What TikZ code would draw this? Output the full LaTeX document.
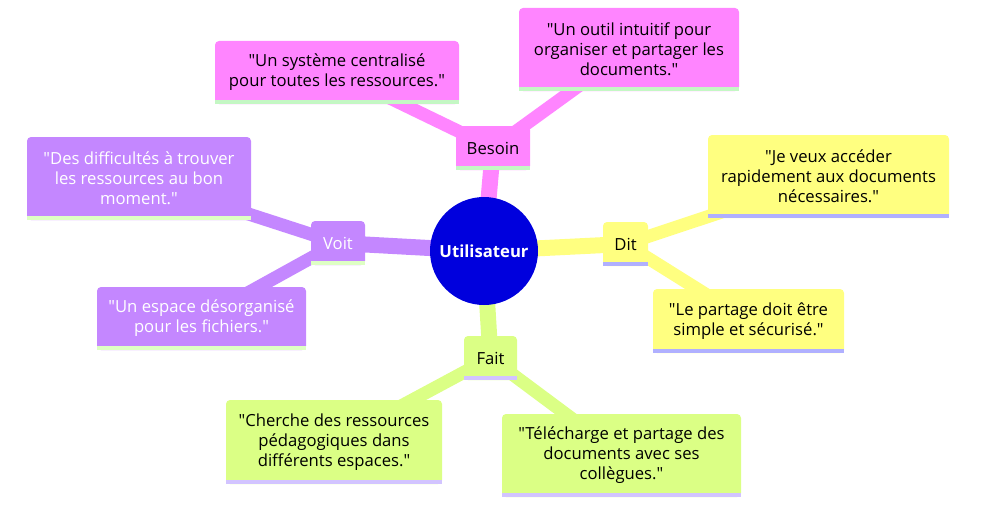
\documentclass[tikz,border=0pt]{standalone}
\usepackage{fontspec}
\setmainfont{Open Sans}[Ligatures=TeXOff]
\usetikzlibrary{backgrounds}

\definecolor{rootblue}{RGB}{0,0,221}
\definecolor{pinkbox}{RGB}{255,133,255}
\definecolor{pinkline}{RGB}{196,247,196}
\definecolor{violetbox}{RGB}{196,135,255}
\definecolor{violetline}{RGB}{222,255,196}
\definecolor{yellowbox}{RGB}{255,255,128}
\definecolor{yellowline}{RGB}{176,176,255}
\definecolor{greenbox}{RGB}{219,255,133}
\definecolor{greenline}{RGB}{210,196,255}

\begin{document}
\begin{tikzpicture}[x=0.75pt, y=-0.75pt,
    idea/.style={rectangle, rounded corners=3pt, inner sep=0pt, align=center,
      font=\fontsize{12.5}{15}\selectfont, minimum height=33pt},
    twoline/.style={idea, minimum height=47.25pt},
    threeline/.style={idea, minimum height=62.25pt},
    trunk/.style={line width=12pt},
    twig/.style={line width=9.75pt}]
			\useasboundingbox (0,0) rectangle (984,510);
			% centre
			\node[circle, fill=rootblue, minimum size=81pt, inner sep=0pt, text=white,
			  font=\fontsize{12.5}{15}\selectfont\bfseries] (root) at (484,251) {Utilisateur};
			% Besoin
			\node[idea, fill=pinkbox, minimum width=55.5pt] (besoin) at (493,148) {Besoin};
			\node[twoline, fill=pinkbox, minimum width=183pt] (besoin1) at (337,72.5) {"Un système centralisé\\pour toutes les ressources."};
			\node[threeline, fill=pinkbox, minimum width=165pt] (besoin2) at (629,49.5) {"Un outil intuitif pour\\organiser et partager les\\documents."};
			% Voit
			\node[idea, fill=violetbox, text=white, minimum width=40.5pt] (voit) at (338,243) {Voit};
			\node[threeline, fill=violetbox, text=white, minimum width=168pt] (voit1) at (139,178.5) {"Des difficultés à trouver\\les ressources au bon\\moment."};
			\node[twoline, fill=violetbox, text=white, minimum width=156.75pt] (voit2) at (201.5,318.5) {"Un espace désorganisé\\pour les fichiers."};
			% Dit
			\node[idea, fill=yellowbox, minimum width=33.75pt] (dit) at (625.5,244) {Dit};
			\node[threeline, fill=yellowbox, minimum width=180.75pt] (dit1) at (828.5,176.5) {"Je veux accéder\\rapidement aux documents\\nécessaires."};
			\node[twoline, fill=yellowbox, minimum width=143.25pt, minimum height=48pt] (dit2) at (748.5,321) {"Le partage doit être\\simple et sécurisé."};
			% Fait
			\node[idea, fill=greenbox, minimum width=39.75pt] (fait) at (490.5,358) {Fait};
			\node[threeline, fill=greenbox, minimum width=162pt, minimum height=63pt] (fait1) at (334,442) {"Cherche des ressources\\pédagogiques dans\\différents espaces."};
			\node[threeline, fill=greenbox, minimum width=179.25pt] (fait2) at (621.5,455.5) {"Télécharge et partage des\\documents avec ses\\collègues."};
			% bandes du bas
			\foreach \n/\c in {besoin/pinkline, besoin1/pinkline, besoin2/pinkline,
			  voit/violetline, voit1/violetline, voit2/violetline,
			  dit/yellowline, dit1/yellowline, dit2/yellowline,
			  fait/greenline, fait1/greenline, fait2/greenline}
			  \fill[\c] ([yshift=3pt]\n.south west) rectangle (\n.south east);
			% branches
			\begin{scope}[on background layer]
			\draw[trunk, pinkbox] (root.center) -- (besoin.center);
			\draw[twig, pinkbox] (besoin.center) -- (besoin1.center);
			\draw[twig, pinkbox] (besoin.center) -- (besoin2.center);
			\draw[trunk, violetbox] (root.center) -- (voit.center);
			\draw[twig, violetbox] (voit.center) -- (voit1.center);
			\draw[twig, violetbox] (voit.center) -- (voit2.center);
			\draw[trunk, yellowbox] (root.center) -- (dit.center);
			\draw[twig, yellowbox] (dit.center) -- (dit1.center);
			\draw[twig, yellowbox] (dit.center) -- (dit2.center);
			\draw[trunk, greenbox] (root.center) -- (fait.center);
			\draw[twig, greenbox] (fait.center) -- (fait1.center);
			\draw[twig, greenbox] (fait.center) -- (fait2.center);
			\end{scope}
\end{tikzpicture}
\end{document}
